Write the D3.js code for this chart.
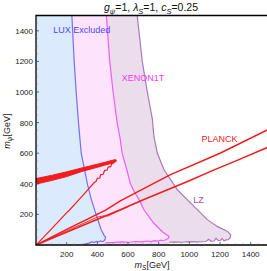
<!DOCTYPE html>
<html>
<head>
<meta charset="utf-8">
<script src="https://cdn.jsdelivr.net/npm/d3@7"></script>
<style>
  body { margin: 0; background: #fff; }
  svg { display: block; font-family: "Liberation Sans", Arial, sans-serif; }
</style>
</head>
<body>
<div id="main"></div>
<script>
// boundaries as [mS, mpsi] in GeV
var luxEdge = [[234,1500],[249,1200],[262,1000],[277,800],[295,600],[335,400],[360,300],[392,200],[425,100],[446,60],[454,52],[450,35],[441,25],[430,22],[420,26],[408,20],[396,23],[382,17],[362,20],[344,12],[325,8],[310,5]];
var xenonEdge = [[459,1500],[481,1200],[503,1000],[529,800],[548,700],[562,600],[590,500],[616,400],[640,350],[670,300],[704,230],[740,180],[769,142],[824,87],[868,56],[862,42],[848,36],[832,28],[812,32],[795,25],[772,29],[752,22],[720,26],[690,21],[650,23],[610,18],[560,20],[500,16],[454,16]];
var lzEdge = [[660,1500],[693,1200],[726,1000],[759,821],[769,710],[791,601],[835,492],[879,426],[922,361],[988,295],[1054,230],[1119,164],[1185,120],[1250,88],[1270,66],[1266,46],[1256,36],[1240,33],[1226,27],[1214,42],[1200,28],[1188,30],[1174,44],[1162,26],[1142,24],[1126,37],[1108,23],[1060,20],[1000,22],[950,18],[900,21],[868,18]];

var planckUpper = [[0,0],[200,102],[457,229],[550,288],[874,458],[1200,600],[1520,757]];
var planckThin = [[0,0],[200,92],[400,182],[440,190],[470,190],[520,214],[600,250]];
var planckLower = [[0,0],[300,126],[550,230],[700,296],[874,368],[1000,420],[1150,486],[1300,548],[1520,642]];
var planckSteep = [[0,0],[100,104],[205,216],[214,224],[300,318],[380,408],[392,416],[400,436],[416,438],[422,460],[438,462],[448,488],[464,490],[470,508],[486,512],[494,530],[512,542]];
var bandUpper = [[0,434],[100,455],[200,478],[300,504],[400,528],[470,546],[505,556],[522,557]];
var bandLower = [[524,547],[505,537],[460,525],[400,508],[300,481],[200,447],[100,421],[0,398]];

var ticks = [200,400,600,800,1000,1200,1400];
var minorTicks = d3.range(50,1500,50).filter(function(v){ return v % 200 != 0; });

var W = 267, H = 271;
var x = d3.scaleLinear().domain([0,1500]).range([36,266]);
var y = d3.scaleLinear().domain([0,1500]).range([245,15.5]);

var svg = d3.select("#main").append("svg")
  .attr("width", W).attr("height", H);

svg.append("clipPath").attr("id","clip")
  .append("rect").attr("x",36).attr("y",15).attr("width",231).attr("height",230);

var plot = svg.append("g").attr("clip-path","url(#clip)");

var line = d3.line().x(function(d){ return x(d[0]); }).y(function(d){ return y(d[1]); });

function region(edge) {
  return [[0,1500]].concat(edge).concat([[edge[edge.length-1][0],0],[0,0]]);
}

// filled exclusion regions
plot.append("path").attr("d", line(region(lzEdge)) + "Z").attr("fill","#ecdded");
plot.append("path").attr("d", line(region(xenonEdge)) + "Z").attr("fill","#fde3fc");
plot.append("path").attr("d", line(region(luxEdge)) + "Z").attr("fill","#dbeafc");

plot.append("path").attr("d", line(lzEdge)).attr("fill","none").attr("stroke","#a97ab9").attr("stroke-width",1.2);
plot.append("path").attr("d", line(xenonEdge)).attr("fill","none").attr("stroke","#f45cf4").attr("stroke-width",1.2);
plot.append("path").attr("d", line(luxEdge)).attr("fill","none").attr("stroke","#7272f6").attr("stroke-width",1.2);

// planck
var red = "#f21c1c";
plot.append("path").attr("d", line(planckThin)).attr("fill","none").attr("stroke",red).attr("stroke-width",0.9);
plot.append("path").attr("d", line(planckUpper)).attr("fill","none").attr("stroke",red).attr("stroke-width",1.5);
plot.append("path").attr("d", line(planckLower)).attr("fill","none").attr("stroke",red).attr("stroke-width",1.5);
plot.append("path").attr("d", line(planckSteep)).attr("fill","none").attr("stroke",red).attr("stroke-width",1.2);
plot.append("path").attr("d", line(bandUpper.concat(bandLower)) + "Z")
  .attr("fill",red).attr("stroke",red).attr("stroke-width",1).attr("stroke-linejoin","round");

// labels
plot.append("text").attr("x", x(112)).attr("y", y(1383)).attr("font-size",9).attr("fill","#4a4af5").text("LUX Excluded");
plot.append("text").attr("x", x(560)).attr("y", y(1070)).attr("font-size",9).attr("fill","#f03cf0").text("XENON1T");
plot.append("text").attr("x", x(1080)).attr("y", y(675)).attr("font-size",9).attr("fill","#f02020").text("PLANCK");
plot.append("text").attr("x", x(1025)).attr("y", y(275)).attr("font-size",9).attr("fill","#9a52a8").text("LZ");

// frame
var frame = svg.append("g");
frame.append("path")
  .attr("d", "M267," + y(1500) + "H" + x(0) + "V" + y(0) + "H267")
  .attr("fill","none").attr("stroke","#000").attr("stroke-width",1.3);

frame.selectAll(".xt").data(ticks).enter().append("line")
  .attr("x1", function(d){ return x(d); }).attr("x2", function(d){ return x(d); })
  .attr("y1", y(0)).attr("y2", y(0) - 3).attr("stroke","#444").attr("stroke-width",0.8);
frame.selectAll(".xm").data(minorTicks).enter().append("line")
  .attr("x1", function(d){ return x(d); }).attr("x2", function(d){ return x(d); })
  .attr("y1", y(0)).attr("y2", y(0) - 1.6).attr("stroke","#666").attr("stroke-width",0.6);
frame.selectAll(".yt").data(ticks).enter().append("line")
  .attr("y1", function(d){ return y(d); }).attr("y2", function(d){ return y(d); })
  .attr("x1", x(0)).attr("x2", x(0) + 3).attr("stroke","#444").attr("stroke-width",0.8);
frame.selectAll(".ym").data(minorTicks).enter().append("line")
  .attr("y1", function(d){ return y(d); }).attr("y2", function(d){ return y(d); })
  .attr("x1", x(0)).attr("x2", x(0) + 1.6).attr("stroke","#666").attr("stroke-width",0.6);

frame.selectAll(".xl").data(ticks).enter().append("text")
  .attr("x", function(d){ return x(d); }).attr("y", 256.5)
  .attr("text-anchor","middle").attr("font-size",8).attr("fill","#222").text(function(d){ return d; });
frame.selectAll(".yl").data(ticks).enter().append("text")
  .attr("x", 33).attr("y", function(d){ return y(d) + 3; })
  .attr("text-anchor","end").attr("font-size",8).attr("fill","#222").text(function(d){ return d; });

// title
var title = svg.append("text").attr("x", 151).attr("y", 11).attr("text-anchor","middle")
  .attr("font-size",10.5).attr("fill","#111");
title.append("tspan").attr("font-style","italic").text("g");
title.append("tspan").attr("font-size",7.5).attr("dy",2.5).attr("font-style","italic").text("ψ");
title.append("tspan").attr("dy",-2.5).text("=1, ");
title.append("tspan").attr("font-style","italic").text("λ");
title.append("tspan").attr("font-size",7.5).attr("dy",2.5).attr("font-style","italic").text("S");
title.append("tspan").attr("dy",-2.5).text("=1, ");
title.append("tspan").attr("font-style","italic").text("c");
title.append("tspan").attr("font-size",7.5).attr("dy",2.5).attr("font-style","italic").text("S");
title.append("tspan").attr("dy",-2.5).text("=0.25");

// axis labels
var xl = svg.append("text").attr("x", 152).attr("y", 267.5).attr("text-anchor","middle")
  .attr("font-size",9).attr("fill","#222");
xl.append("tspan").attr("font-style","italic").text("m");
xl.append("tspan").attr("font-size",6.5).attr("dy",2).attr("font-style","italic").text("S");
xl.append("tspan").attr("dy",-2).text("[GeV]");

var yl = svg.append("text").attr("transform","translate(10,131) rotate(-90)").attr("text-anchor","middle")
  .attr("font-size",9).attr("fill","#222");
yl.append("tspan").attr("font-style","italic").text("m");
yl.append("tspan").attr("font-size",6.5).attr("dy",2).attr("font-style","italic").text("ψ");
yl.append("tspan").attr("dy",-2).text("[GeV]");
</script>
</body>
</html>
